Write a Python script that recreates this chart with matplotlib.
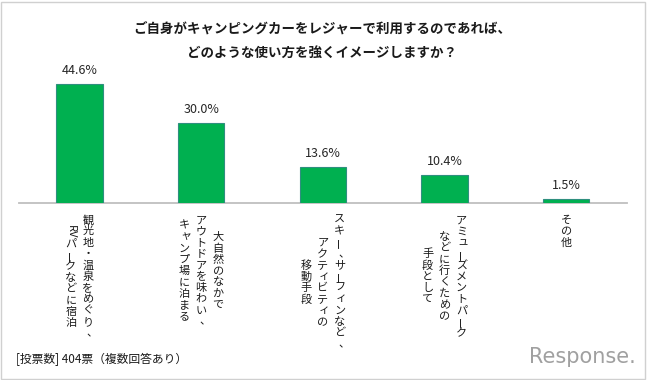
import matplotlib
matplotlib.use("Agg")
import matplotlib.pyplot as plt
from matplotlib.patches import Rectangle

plt.rcParams['font.family'] = ['Noto Sans CJK JP', 'DejaVu Sans']

# ---- data ----
title_lines = ["ご自身がキャンピングカーをレジャーで利用するのであれば、",
               "どのような使い方を強くイメージしますか？"]
# each category: vertical columns, listed right-to-left
categories = [
    ["観光地・温泉をめぐり、", "RVパークなどに宿泊"],
    ["大自然のなかで", "アウトドアを味わい、", "キャンプ場に泊まる"],
    ["スキー、サーフィンなど、", "アクティビティの", "移動手段"],
    ["アミューズメントパーク", "などに行くための", "手段として"],
    ["その他"],
]
values = [44.6, 30.0, 13.6, 10.4, 1.5]
value_labels = ["44.6%", "30.0%", "13.6%", "10.4%", "1.5%"]
footer = "[投票数] 404票（複数回答あり）"
logo = "Response."

W, H = 647, 380
fig = plt.figure(figsize=(W / 100, H / 100), dpi=100)
fig.patch.set_facecolor("white")

ax = fig.add_axes([18.6 / W, (H - 203) / H, (627 - 18.6) / W, 133.4 / H])
x = list(range(len(values)))
bars = ax.bar(x, values, width=0.38, color="#00b050", edgecolor="#2f8f7f",
              linewidth=0.8, zorder=3)
ax.bar_label(bars, labels=value_labels, padding=5, fontsize=9,
             color="#262626")
ax.set_xlim(-0.5, len(values) - 0.5)
ax.set_ylim(0, 50)
for s in ["top", "left", "right"]:
    ax.spines[s].set_visible(False)
ax.spines["bottom"].set_color("#bfbfbf")
ax.spines["bottom"].set_linewidth(1.3)
ax.set_yticks([])
ax.set_xticks([])
ax.patch.set_alpha(0)


def tokens(col):
    out = []
    i = 0
    while i < len(col):
        if col[i].isascii() and col[i].isalpha():
            j = i
            while j < len(col) and col[j].isascii() and col[j].isalpha():
                j += 1
            out.append((col[i:j], 0.6 * (j - i)))
            i = j
        else:
            out.append((col[i], 1.0))
            i += 1
    return out


STEP = 11.3
PITCH = 17.0
TOP = 11.5
FS = 8
small = set("ャュョィァゥェォッ")
for xi, cols in zip(x, categories):
    toks = [tokens(c) for c in cols]
    lens = [sum(s for _, s in t) for t in toks]
    maxlen = max(lens)
    n = len(cols)
    for ci, (tk, L) in enumerate(zip(toks, lens)):
        dx = (n - 1) / 2 * PITCH - ci * PITCH
        pos = TOP + (maxlen - L) / 2 * STEP
        for ch, slots in tk:
            cy = -(pos + slots * STEP / 2)
            rot = 0
            ox, oy = 0, 0
            if ch == "ー":
                rot = 90
            elif ch in "、。":
                ox, oy = 4, 0
            elif ch in small:
                ox, oy = 1.5, 1.0
            elif ch.isascii():
                rot = -90
            ax.annotate(ch, xy=(xi, 0), xycoords="data",
                        xytext=(dx + ox, cy + oy), textcoords="offset pixels",
                        ha="center", va="center", rotation=rot,
                        fontsize=FS, color="#1a1a1a", annotation_clip=False)
            pos += slots * STEP

fig.text(322 / W, 1 - 30 / H, title_lines[0], ha="center", va="center",
         fontsize=9.7, fontweight="bold", color="#1a1a1a")
fig.text(322 / W, 1 - 53 / H, title_lines[1], ha="center", va="center",
         fontsize=9.7, fontweight="bold", color="#1a1a1a")
fig.text(16.5 / W, 1 - 359 / H, footer, ha="left", va="center",
         fontsize=8.5, color="#1a1a1a")
fig.text(636 / W, 1 - 357 / H, logo, ha="right", va="center",
         fontsize=15, color="#a0a0a0", family="DejaVu Sans")

fig.patches.append(Rectangle((1 / W, 1 / H), (W - 3) / W, (H - 3) / H,
                             transform=fig.transFigure, fill=False,
                             edgecolor="#d0d0d0", linewidth=1))

fig.savefig("out.png", dpi=100, facecolor="white")
